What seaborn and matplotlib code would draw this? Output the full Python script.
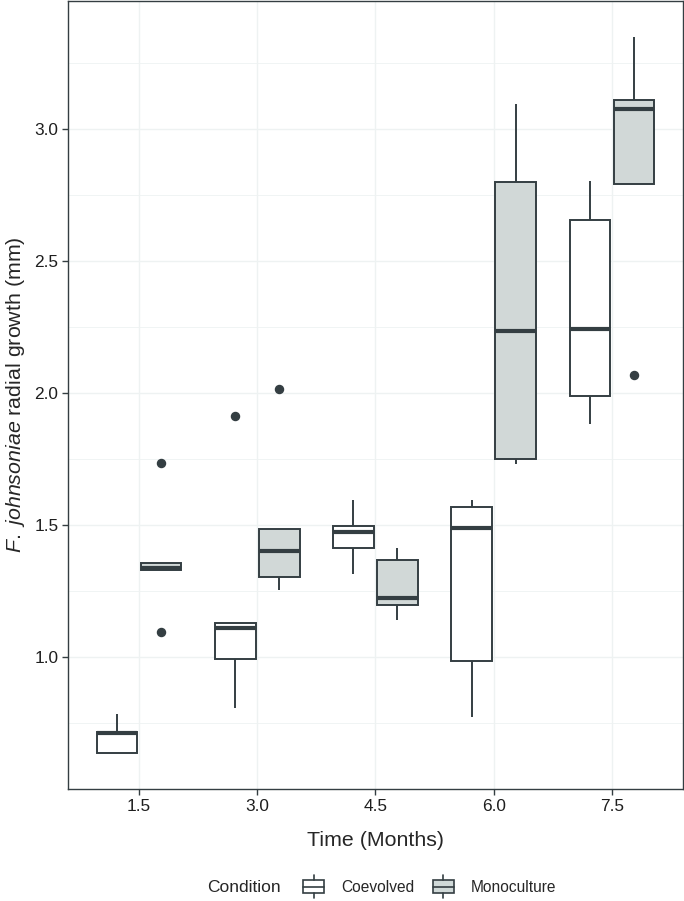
import numpy as np
import pandas as pd
import matplotlib
matplotlib.use('Agg')
import matplotlib.pyplot as plt
import seaborn as sns
from matplotlib.patches import Patch, Rectangle
from matplotlib.lines import Line2D
from matplotlib.legend_handler import HandlerBase
from matplotlib.ticker import MultipleLocator

# Valores (5 observações por grupo)
times = [1.5, 3.0, 4.5, 6.0, 7.5]
coevolved = [
    [0.636, 0.636, 0.713, 0.716, 0.787],
    [0.809, 0.995, 1.111, 1.130, 1.912],
    [1.314, 1.414, 1.474, 1.496, 1.596],
    [0.773, 0.985, 1.489, 1.571, 1.596],
    [1.882, 1.991, 2.244, 2.656, 2.805],
]
monoculture = [
    [1.096, 1.329, 1.339, 1.356, 1.737],
    [1.256, 1.304, 1.404, 1.484, 2.016],
    [1.141, 1.197, 1.224, 1.370, 1.412],
    [1.733, 1.752, 2.235, 2.799, 3.094],
    [2.068, 2.793, 3.077, 3.109, 3.350],
]
conditions = ["Coevolved", "Monoculture"]

EDGE = "#343E42"
MONO_FILL = "#D0D9D8"
GRID = "#EEF2F2"

rows = []
for cond, groups in zip(conditions, [coevolved, monoculture]):
    for t, vals in zip(times, groups):
        for v in vals:
            rows.append({"Time": t, "Growth": v, "Condition": cond})
df = pd.DataFrame(rows)

sns.set_style("white")
plt.rcParams['font.family'] = ['Liberation Sans', 'DejaVu Sans']
plt.rcParams['mathtext.fontset'] = 'custom'
plt.rcParams['mathtext.rm'] = 'Liberation Sans'
plt.rcParams['mathtext.it'] = 'Liberation Sans:italic'


class BoxKeyHandler(HandlerBase):
    # chave de legenda no estilo do ggplot (caixa com bigodes)
    def create_artists(self, legend, orig_handle, xdescent, ydescent,
                       width, height, fontsize, trans):
        x0, y0 = -xdescent, -ydescent
        ext = 0.33 * fontsize
        rect = Rectangle((x0, y0), width, height, facecolor=orig_handle.get_facecolor(),
                         edgecolor=EDGE, lw=1.2, transform=trans)
        med = Line2D([x0, x0 + width], [y0 + height / 2] * 2, color=EDGE, lw=1.2, transform=trans)
        w_top = Line2D([x0 + width / 2] * 2, [y0 + height, y0 + height + ext], color=EDGE, lw=1.2, transform=trans)
        w_bot = Line2D([x0 + width / 2] * 2, [y0 - ext, y0], color=EDGE, lw=1.2, transform=trans)
        return [rect, med, w_top, w_bot]


fig, ax = plt.subplots(figsize=(6.84, 9.01), dpi=100)
fig.subplots_adjust(left=0.0994, right=0.9985, top=0.999, bottom=0.1240)

sns.boxplot(data=df, x="Time", y="Growth", hue="Condition", hue_order=conditions,
            native_scale=True, width=0.744, gap=0.075,
            palette={"Coevolved": "white", "Monoculture": MONO_FILL},
            linecolor=EDGE, linewidth=1.4, showcaps=False,
            medianprops=dict(linewidth=3.0, color=EDGE),
            flierprops=dict(marker='o', markersize=5.8, markerfacecolor=EDGE,
                            markeredgecolor=EDGE),
            legend=False, ax=ax)

ax.set_xlim(0.6, 8.4)
ax.set_ylim(0.5, 3.486)
ax.set_xticks(times)
ax.set_xticklabels([f"{t:.1f}" for t in times])
ax.yaxis.set_major_locator(MultipleLocator(0.5))
ax.yaxis.set_minor_locator(MultipleLocator(0.25))
ax.set_yticks([1.0, 1.5, 2.0, 2.5, 3.0])
ax.set_yticklabels(["1.0", "1.5", "2.0", "2.5", "3.0"])

ax.grid(True, which='major', color=GRID, lw=1.0)
ax.grid(True, which='minor', axis='y', color=GRID, lw=0.6)
ax.set_axisbelow(True)
ax.tick_params(axis='both', which='major', length=4, width=1.0, color=EDGE,
               labelsize=12.4, labelcolor="#1e1e1e", pad=3, direction='out',
               bottom=True, left=True)
ax.tick_params(axis='both', which='minor', length=0)
for sp in ax.spines.values():
    sp.set_color(EDGE)
    sp.set_linewidth(1.0)

ax.set_xlabel("Time (Months)", fontsize=15.4, labelpad=12)
ax.set_ylabel(r"$\it{F.\ johnsoniae}$ radial growth (mm)", fontsize=15.4, labelpad=5)

handles = [Patch(facecolor="white"), Patch(facecolor=MONO_FILL)]
fig.text(207 / 684, 1 - 888 / 901, "Condition", fontsize=12.5, va='center', ha='left')
fig.legend(handles, conditions, handler_map={Patch: BoxKeyHandler()},
           loc='center left', bbox_to_anchor=(295.5 / 684, 1 - 887.5 / 901),
           ncol=2, frameon=False, fontsize=11.2, borderpad=0,
           handlelength=1.35, handleheight=0.92, handletextpad=1.08, columnspacing=1.2)

fig.savefig("out.png", dpi=100)
